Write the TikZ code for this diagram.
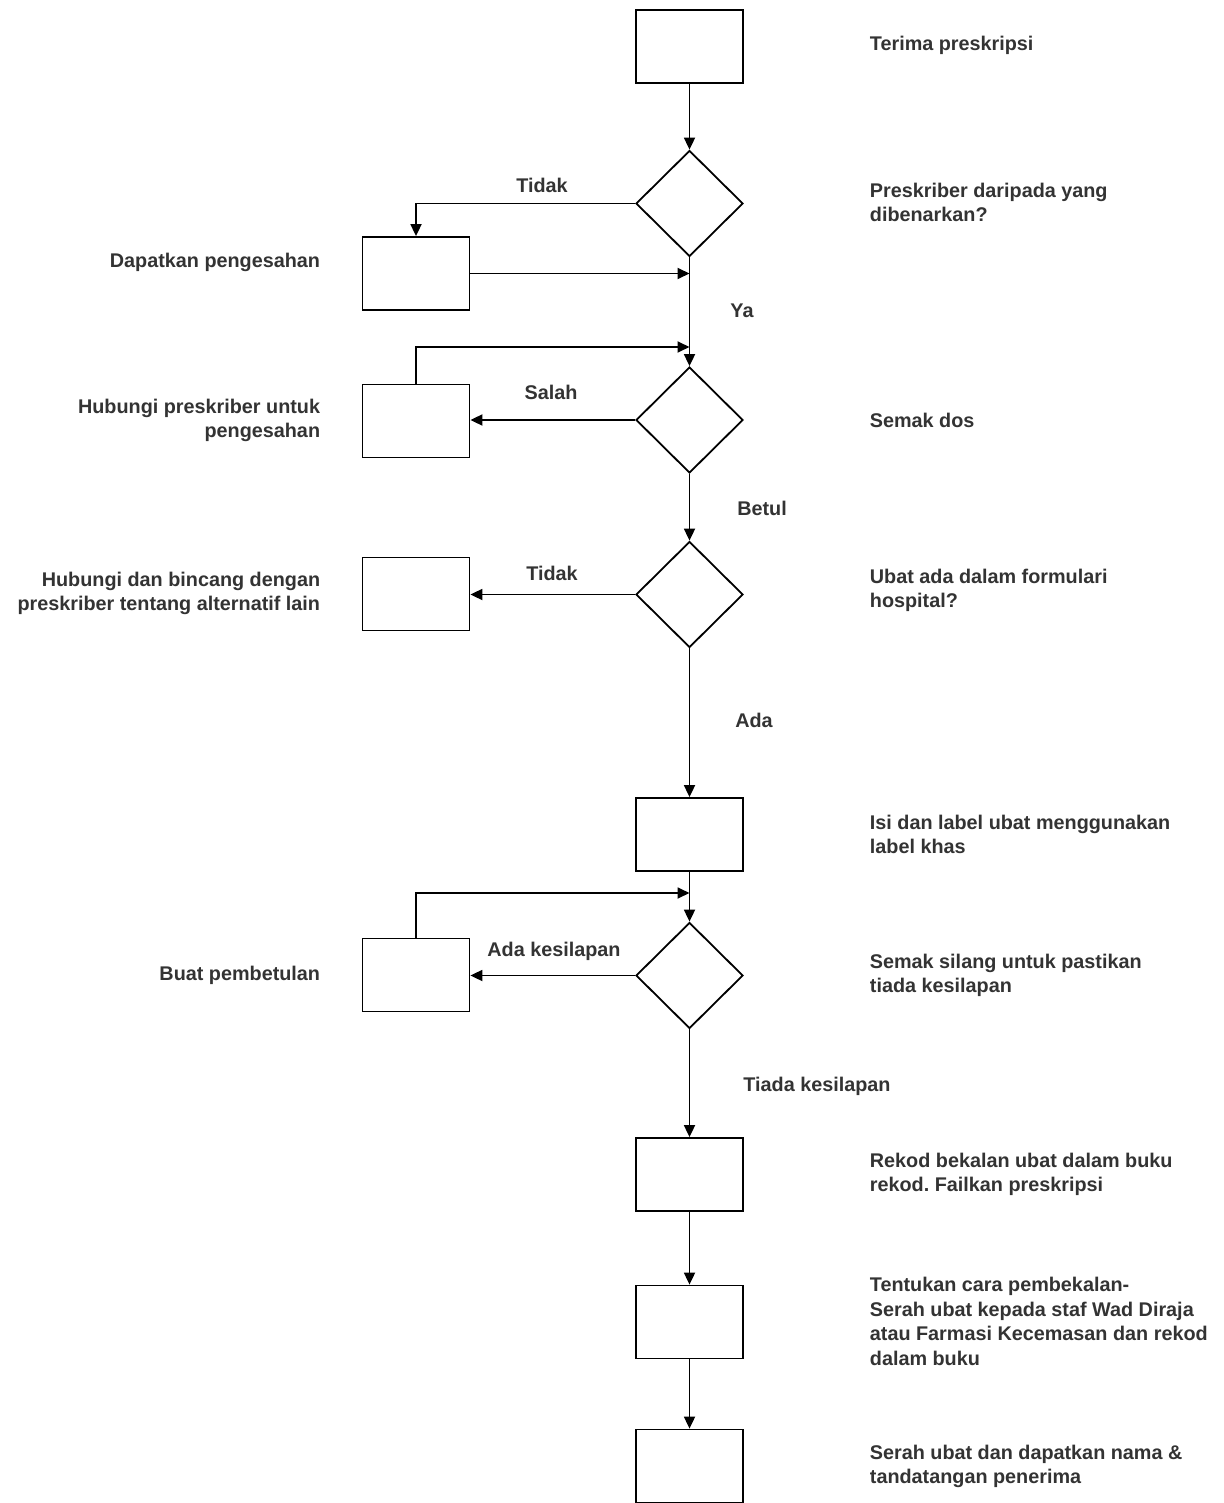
\documentclass[tikz,border=0pt]{standalone}
\usepackage{fontspec}
\setmainfont{Liberation Sans}
\usetikzlibrary{arrows.meta,positioning,shapes.geometric,calc}
\definecolor{ink}{HTML}{333333}
\frenchspacing

\begin{document}
\begin{tikzpicture}[x=1pt, y=-1pt, line width=1.8pt,
    >={Triangle[length=12pt,width=11pt]},
    every node/.style={font=\fontsize{19.8}{24.5}\selectfont\bfseries, text=ink},
    stepbox/.style={draw=black, minimum width=107pt, minimum height=73pt, inner sep=0pt},
    choice/.style={draw=black, diamond, minimum width=107pt, minimum height=106pt, inner sep=0pt},
    rnote/.style={anchor=west, align=left, inner sep=0pt},
    lnote/.style={anchor=east, align=right, inner sep=0pt}]
  \useasboundingbox (0,0) rectangle (1223,1503);
  % main column
  \node[stepbox] (terima) at (689.5,46.5) {};
  \node[choice] (sah) at (689.5,203.5) {};
  \node[choice] (dos) at (689.5,420) {};
  \node[choice] (formulari) at (689.5,594.5) {};
  \node[stepbox] (isi) at (689.5,834.5) {};
  \node[choice] (silang) at (689.5,975.5) {};
  \node[stepbox] (rekod) at (689.5,1174.5) {};
  \node[stepbox] (tentukan) at (689.5,1322) {};
  \node[stepbox] (serah) at (689.5,1466) {};
  % side boxes
  \node[stepbox] (dapat) at (416,273.5) {};
  \node[stepbox] (hubungi) at (416,421) {};
  \node[stepbox] (bincang) at (416,594) {};
  \node[stepbox] (betul) at (416,975) {};
  \coordinate (balik1) at (689.5,347);
  \coordinate (balik2) at (689.5,893);

  \foreach \a/\b in {terima/sah, sah/dos, dos/formulari, formulari/isi,
                     isi/silang, silang/rekod, rekod/tentukan, tentukan/serah}
    \draw[->] (\a.south) -- (\b.north);
  \draw[->] (sah.west) -| (dapat.north);
  \draw[->] (dapat.east) -- (dapat.east -| sah.south);
  \foreach \a/\b in {dos/hubungi, formulari/bincang, silang/betul}
    \draw[->] (\a.west) -- (\a.west -| \b.east);
  \draw[->] (hubungi.north) |- (balik1);
  \draw[->] (betul.north) |- (balik2);

  % connector labels
  \foreach \t/\x/\y [count=\i] in {Tidak/542/185, Ya/742/311, Salah/551/392,
      Betul/762/508, Tidak/552/573, Ada/754/720, Ada kesilapan/554/951,
      Tiada kesilapan/817/1086}
    \node (lbl\i) at (\x,\y) {\t};

  % step texts
  \node[rnote] (tterima) at (869,45) {Terima preskripsi};
  \node[rnote] (tsah) at (869,202.5) {Preskriber daripada yang\\dibenarkan?};
  \node[rnote] (tdos) at (869,420) {Semak dos};
  \node[rnote] (tformulari) at (869,590.5) {Ubat ada dalam formulari\\hospital?};
  \node[rnote] (tisi) at (869,834.5) {Isi dan label ubat menggunakan\\label khas};
  \node[rnote] (tsilang) at (869,975.5) {Semak silang untuk pastikan\\tiada kesilapan};
  \node[rnote] (trekod) at (869,1174.5) {Rekod bekalan ubat dalam buku\\rekod. Failkan preskripsi};
  \node[rnote] (ttentukan) at (869,1321.5) {Tentukan cara pembekalan-\\Serah ubat kepada staf Wad Diraja\\atau Farmasi Kecemasan dan rekod\\dalam buku};
  \node[rnote] (tserah) at (869,1466.5) {Serah ubat dan dapatkan nama \&\\tandatangan penerima};
  \node[lnote] (tdapat) at (321,262) {Dapatkan pengesahan};
  \node[lnote] (thubungi) at (321,420.5) {Hubungi preskriber untuk\\pengesahan};
  \node[lnote] (tbincang) at (321,593.5) {Hubungi dan bincang dengan\\preskriber tentang alternatif lain};
  \node[lnote] (tbetul) at (321,975) {Buat pembetulan};
\end{tikzpicture}
\end{document}
